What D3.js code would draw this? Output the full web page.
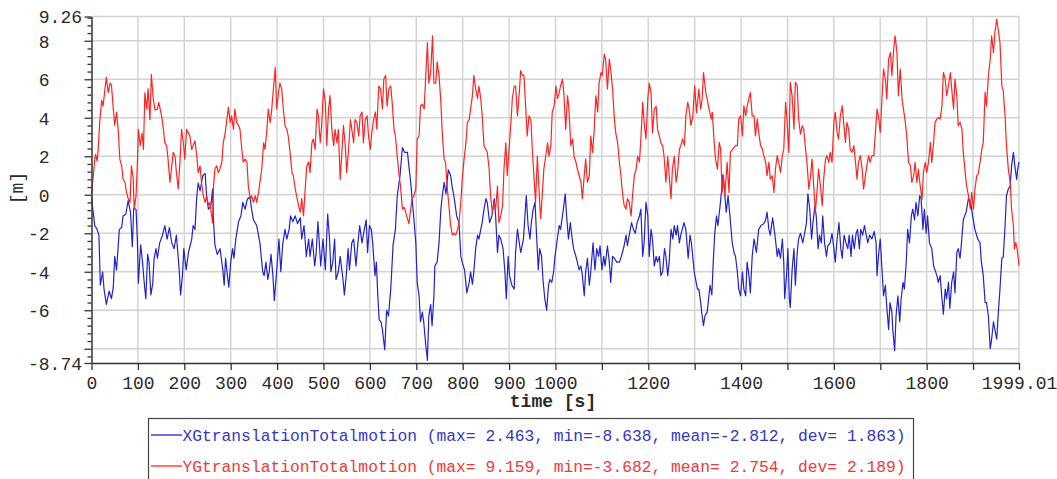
<!DOCTYPE html>
<html>
<head>
<meta charset="utf-8">
<script src="https://cdn.jsdelivr.net/npm/d3@7"></script>
<style>
  body { margin: 0; background: #fff; }
  svg { display: block; font-family: "Liberation Mono", "Courier New", monospace; }
</style>
</head>
<body>
<svg id="chart" width="1057" height="479"></svg>
<script>
// time [s] and displacement [m]
var xTime = [0,7,12,16,19,24,27,32,38,43,47,50,54,60,65,68,74,79,84,88,91,96,99,101,106,110,113,117,121,124,128,132,135,139,142,147,153,158,163,168,173,178,183,189,192,196,199,204,209,216,219,223,227,230,234,240,245,248,252,257,261,263,266,271,277,283,286,289,293,296,300,304,307,311,317,322,326,331,335,338,342,345,349,356,363,369,372,376,380,383,387,391,394,399,404,408,412,417,421,426,429,434,439,444,450,453,458,463,468,471,476,481,484,488,491,494,499,504,509,513,516,520,524,527,532,536,542,545,549,553,556,561,565,570,573,578,583,588,592,595,599,603,606,611,614,617,620,
  624,627,632,636,640,645,650,655,659,665,670,675,681,684,688,691,695,699,702,706,709,713,716,720,724,727,731,734,738,740,745,749,753,756,760,764,769,774,778,781,787,792,796,799,804,809,814,817,821,824,828,832,835,839,842,846,850,853,858,863,868,871,875,878,882,887,891,894,898,901,906,911,914,918,922,925,931,937,941,945,948,952,956,959,963,966,970,973,977,981,985,988,992,996,999,1004,1008,1011,1017,1021,1024,1028,1032,1035,1039,1044,1047,1051,1055,1058,1062,1065,1069,1073,1076,1081,1085,1089,1093,1096,1100,1104,1107,1112,1116,1119,1123,1127,1132,1138,1142,1148,1152,1155,1159,1164,1168,1172,1176,1181,1184,1188,1191,1195,1199,1202,1206,1209,1213,1217,1220,1224,1227,1231,1235,1238,1242,1245,1249,1253,1256,1260,1263,1267,
  1270,1277,1281,1286,1290,1293,1299,1302,1306,1309,1313,1315,1319,1322,1327,1333,1337,1340,1343,1347,1350,1354,1357,1361,1364,1368,1372,1376,1381,1385,1388,1392,1395,1399,1403,1406,1410,1413,1417,1420,1424,1428,1433,1438,1443,1449,1453,1456,1460,1463,1468,1473,1478,1481,1485,1489,1492,1494,1498,1501,1504,1506,1510,1514,1517,1521,1524,1528,1533,1537,1541,1544,1548,1552,1555,1559,1562,1566,1569,1573,1576,1580,1584,1587,1592,1596,1600,1603,1607,1611,1615,1618,1622,1626,1630,1633,1637,1640,1644,1648,1651,1655,1658,1662,1666,1669,1673,1677,1682,1687,1691,1693,1696,1700,1704,1707,1711,1714,1718,1721,1725,1727,1731,1734,1738,1742,1745,1749,1752,1756,1759,1763,1767,1770,1774,1777,1781,1785,1788,1792,1795,1799,1802,1806,1811,1815,1818,1822,1825,1829,1833,1836,1840,1843,1847,1850,1854,1858,1861,1865,1868,1872,1875,1879,1885,1890,1895,1899,1904,1910,1915,1918,1922,1926,1929,1933,1937,1940,1944,1947,1951,1954,1958,1962,1965,1969,1972,1976,1980,1983,1987,1990,1994,1996,1999.01];
var xMotion = [-0.14,-1.6,-1.8,-2.1,-4.7,-4.0,-4.9,-5.7,-5.0,-5.4,-4.8,-3.2,-3.9,-1.8,-1.7,-1.1,-1.0,-0.3,-0.9,-2.7,-0.7,-0.75,-2.5,-4.6,-2.6,-3.5,-4.4,-5.4,-3.1,-3.5,-5.2,-4.6,-3.3,-2.8,-3.3,-2.5,-2.1,-1.6,-2.3,-1.7,-2.5,-2.8,-2.1,-3.9,-5.2,-4.2,-2.8,-3.9,-3.0,-2.3,-1.6,-1.8,-0.05,0.6,0.2,1.0,1.1,-0.05,-0.75,-0.6,0.3,-1.4,-2.6,-3.1,-2.8,-3.9,-4.7,-3.3,-4.2,-4.8,-3.5,-2.8,-3.3,-2.3,-1.4,-1.1,-0.4,-0.75,-0.3,-0.15,-0.2,-0.75,-1.3,-1.6,-2.5,-4.0,-4.2,-3.5,-4.4,-4.0,-3.1,-4.2,-5.5,-4.0,-2.3,-4.0,-2.6,-1.8,-2.3,-1.8,-1.1,-1.4,-1.1,-1.5,-1.2,-2.3,-1.6,-3.2,-2.3,-3.2,-2.3,-3.7,-3.1,-1.4,-2.5,-3.7,-2.3,-3.9,-1.0,-2.3,-4.0,-3.5,-2.3,-4.4,-4.0,-3.2,-4.4,-5.2,-4.2,-2.8,-3.9,-2.5,-2.3,-3.7,-2.8,-1.6,-2.5,-1.8,-1.3,-3.0,-1.6,-1.8,-2.5,-4.2,-3.5,-5.2,-6.5,
  -6.6,-7.0,-8.05,-6.0,-6.3,-4.9,-2.6,-1.8,-0.05,1.0,2.45,2.2,2.2,1.5,0.65,-0.2,-1.3,-2.5,-4.55,-5.25,-6.6,-6.1,-6.6,-7.7,-8.6,-6.3,-5.7,-6.8,-5.25,-3.7,-3.5,-2.5,-0.75,-0.05,0.65,0.05,1.3,1.0,0.3,-0.05,-1.1,-1.45,-3.2,-3.5,-3.9,-5.1,-4.55,-4.0,-4.65,-4.0,-2.8,-2.1,-2.3,-1.8,-1.45,-0.75,-0.2,-0.4,-1.45,-1.1,-0.2,-1.1,-3.0,-2.1,-2.3,-2.8,-4.0,-5.4,-3.2,-4.2,-4.7,-4.9,-3.0,-1.8,-2.5,-3.0,-2.3,-0.05,-1.6,-2.3,-1.45,-0.75,-0.4,-2.0,-3.9,-2.8,-3.2,-4.4,-5.4,-6.0,-4.7,-4.4,-4.55,-4.0,-3.2,-2.3,-1.6,-1.8,-0.75,0.05,-1.1,-2.3,-1.45,-2.1,-2.8,-3.2,-3.5,-3.9,-3.7,-4.2,-5.25,-4.0,-3.3,-4.7,-4.0,-2.5,-3.9,-2.8,-3.2,-2.65,-3.9,-3.2,-3.7,-2.65,-3.5,-4.55,-3.2,-3.3,-3.5,-3.5,-3.2,-2.65,-2.1,-2.65,-2.1,-1.45,-1.8,-2.0,-1.45,-1.1,-0.75,-3.2,-2.5,-0.4,-1.1,-3.2,-1.8,-2.3,-3.7,-3.2,-3.5,-3.2,-4.2,-4.0,-2.8,-3.2,-4.2,-3.5,-1.8,-2.3,-1.6,-2.1,-1.6,-2.5,
  -2.1,-1.45,-1.8,-3.3,-2.1,-2.5,-4.0,-4.4,-4.9,-4.9,-5.6,-6.1,-6.8,-6.3,-6.1,-4.7,-5.2,-3.5,-2.1,-1.1,-1.6,-0.75,-0.05,1.05,0.3,-0.9,-0.05,-1.1,-2.5,-3.0,-3.2,-4.0,-4.9,-5.25,-4.0,-4.9,-5.25,-3.5,-4.2,-5.1,-3.2,-2.3,-3.0,-1.8,-1.6,-1.5,-1.3,-0.9,-1.8,-2.1,-1.2,-2.1,-3.2,-2.8,-3.3,-2.3,-3.5,-5.4,-4.2,-2.8,-5.4,-5.85,-3.9,-2.8,-4.7,-3.0,-2.3,-2.0,-2.5,-2.0,-1.45,0.05,-0.75,-2.3,-1.45,-0.6,-1.1,-2.8,-2.1,-2.5,-1.1,-2.5,-3.2,-2.65,-2.5,-2.0,-2.8,-3.5,-2.3,-1.45,-2.8,-3.3,-2.1,-2.5,-2.8,-2.1,-3.2,-2.1,-2.8,-2.0,-1.8,-2.8,-1.8,-2.1,-1.6,-2.0,-2.5,-2.1,-2.3,-1.9,-2.5,-4.2,-3.2,-2.3,-4.0,-5.25,-4.7,-5.8,-7.0,-5.6,-6.1,-7.0,-8.1,-6.3,-5.25,-6.6,-5.4,-4.55,-4.9,-3.5,-1.8,-2.5,-1.1,-0.75,-1.3,-0.4,-1.1,-0.05,-0.2,-1.8,-0.75,-2.0,-1.1,-2.5,-2.8,-3.7,-3.9,-4.2,-4.55,-4.2,-5.4,-6.2,-4.9,-5.4,-4.55,-5.9,-4.55,-4.0,-5.1,-3.0,-2.8,-3.3,-2.5,-1.3,-0.9,-0.2,-0.4,-1.1,-1.8,-2.3,-2.5,-3.5,-4.2,-5.6,-5.6,-6.3,-8.0,-7.5,-6.6,-7.0,-7.5,-6.3,-4.9,-3.3,-3.25,-1.6,-0.05,0.3,0.45,1.5,2.2,1.5,0.8,1.3,1.7];

var yTime = [0,4,7,9,12,14,18,22,25,29,32,36,40,43,47,50,54,58,61,65,68,72,75,79,83,86,90,92,96,99,101,105,109,112,115,119,122,126,129,133,137,142,145,151,155,158,162,165,169,173,176,180,183,187,191,194,198,201,205,209,212,216,219,223,227,230,234,237,241,245,248,252,255,259,261,263,266,270,273,277,281,284,288,291,295,299,302,306,309,313,317,320,324,327,331,335,338,342,345,349,353,356,360,363,367,371,374,378,381,385,388,392,396,399,403,406,410,414,417,421,424,428,432,435,439,442,446,450,453,457,460,464,468,471,475,478,482,486,489,493,496,500,504,507,511,514,518,522,525,529,532,536,540,543,547,550,554,558,561,565,568,572,576,579,583,586,590,594,597,601,604,608,612,615,619,
  623,627,630,634,637,641,645,648,652,655,659,663,666,670,674,677,681,684,688,691,695,699,702,706,709,713,717,720,724,727,731,735,738,742,745,749,753,756,760,763,767,771,774,778,781,785,789,792,796,799,803,807,810,814,817,821,824,828,832,835,839,842,846,850,853,857,860,864,868,871,875,878,882,886,889,893,896,900,904,907,911,914,918,922,925,929,932,936,939,943,947,950,954,957,961,964,968,971,975,979,983,986,990,993,997,1001,1004,1008,1011,1015,1018,1022,1026,1029,1033,1037,1040,1044,1047,1051,1055,1058,1062,1065,1069,1073,1076,1080,1083,1087,1091,1094,1098,1101,1105,1108,1112,1116,1119,1123,1127,1130,1134,1137,1141,1145,1148,1152,1155,1159,1163,1166,1170,1174,1177,1181,1184,1188,1191,1195,1199,1202,1206,1209,1213,1217,1220,1224,1227,1231,1234,1238,1242,1245,1249,1252,1256,1260,1263,1267,1270,1274,1278,1281,1285,1288,1292,1296,
  1300,1304,1309,1313,1316,1319,1324,1327,1331,1336,1338,1342,1345,1349,1353,1356,1359,1362,1365,1367,1370,1374,1377,1382,1388,1392,1395,1399,1403,1406,1410,1413,1417,1420,1424,1428,1431,1435,1438,1442,1446,1449,1453,1456,1460,1463,1467,1471,1474,1478,1481,1485,1489,1492,1496,1499,1503,1506,1510,1514,1517,1521,1524,1528,1532,1535,1539,1542,1546,1549,1553,1557,1560,1564,1567,1571,1575,1578,1582,1585,1589,1592,1596,1600,1603,1607,1610,1614,1618,1621,1625,1628,1632,1635,1639,1643,1646,1650,1653,1657,1661,1664,1668,1671,1675,1678,1682,1686,1689,1693,1696,1700,1704,1707,1711,1714,1718,1722,1725,1729,1732,1736,1739,1743,1747,1750,1754,1757,1761,1765,1768,1772,1775,1779,1782,1786,1790,1793,1797,1800,1804,1808,1811,1815,1818,1822,1825,1829,1833,1836,1840,1843,1847,1851,1854,1858,1861,1865,1868,1872,1876,1879,1883,1886,1890,1894,1897,1901,1904,1908,1911,1915,1919,1922,1926,1929,1933,1937,1940,1944,1947,1951,1954,1958,1962,1965,1969,1972,1976,1980,1983,1987,1989,1992,1995,1999.01];
var yMotion = [0.05,1.0,1.85,2.1,1.75,2.2,3.9,4.9,4.6,5.5,6.1,5.3,5.8,5.7,4.45,3.6,4.3,3.2,1.85,1.5,0.8,0.65,0.2,-0.2,-0.4,1.5,0.8,-0.75,-0.05,1.7,3.4,2.55,3.2,2.35,5.3,4.45,5.5,3.9,6.25,5.0,4.4,4.45,4.8,4.1,3.4,2.7,2.55,1.85,0.65,1.5,2.2,2.0,1.15,0.3,1.85,3.4,2.7,1.85,3.4,3.2,3.05,2.35,2.55,2.8,2.0,1.15,1.5,0.65,-0.05,-0.4,-0.05,-0.55,-0.4,-1.1,-1.45,0.45,1.35,1.5,1.15,1.35,1.7,2.7,3.2,3.75,4.55,3.75,4.1,3.4,4.45,3.75,3.6,3.4,2.35,1.7,1.85,1.7,0.45,-0.2,-0.05,-0.4,-0.05,-0.4,0.1,0.65,1.35,2.7,2.35,3.4,4.45,3.75,4.3,5.5,6.6,4.45,5.3,5.8,5.5,4.3,3.6,3.4,3.05,2.2,1.15,1.0,0.3,-0.05,-0.55,-0.9,-0.2,-1.1,0.1,1.5,1.7,1.15,2.7,2.9,2.35,4.45,4.1,2.7,3.6,5.5,4.8,2.55,4.45,5.15,3.4,2.55,3.4,2.7,3.4,0.8,2.35,3.6,2.55,1.15,2.35,3.9,3.4,2.7,3.9,3.75,3.05,4.1,4.3,2.7,3.9,4.1,3.05,2.35,3.2,3.9,4.3,3.4,5.65,
  5.5,4.45,6.0,6.2,4.6,5.5,5.65,4.8,3.4,3.05,2.0,1.0,0.45,-0.75,-0.65,-0.9,-1.25,-1.5,-0.75,-0.2,-0.05,0.3,2.9,3.05,4.6,4.7,4.45,6.0,7.9,5.8,6.35,8.25,5.8,5.8,6.9,6.2,4.8,3.2,1.85,1.7,0.3,-0.75,-1.6,-2.1,-2.0,-2.1,-1.8,-1.45,-0.4,0.8,1.85,2.7,3.75,3.9,4.45,5.15,6.2,5.5,5.0,5.65,5.0,4.1,2.55,2.35,2.2,1.35,-0.05,-0.9,-0.4,-0.75,0.45,-1.45,-1.1,-0.55,1.35,2.7,1.0,2.35,3.75,5.0,5.65,5.65,4.1,5.3,6.45,6.2,6.2,4.45,3.05,4.1,3.9,2.35,0.8,-0.4,2.0,0.45,-1.25,-0.2,1.35,2.0,2.7,2.0,2.55,4.3,4.6,5.65,5.0,5.3,5.65,6.0,5.3,3.4,5.15,4.45,2.55,2.9,2.0,1.7,1.35,1.0,0.65,-0.2,1.0,1.85,0.65,1.0,3.05,2.2,3.2,5.15,4.3,5.8,6.35,6.2,7.3,7.05,5.5,7.05,6.5,5.5,3.9,3.2,2.7,1.85,1.0,-0.05,-0.55,-0.75,-0.2,-0.4,-1.1,-0.05,1.0,1.35,2.0,1.7,2.9,4.8,3.75,2.9,5.0,5.8,5.3,3.2,4.45,4.6,3.4,3.05,2.7,2.55,2.0,0.65,2.0,1.0,-0.2,1.35,2.0,0.65,1.15,2.35,2.55,2.9,2.55,4.1,4.8,4.45,3.6,4.1,
  5.66,4.28,5.49,4.45,4.97,6.35,5.32,4.97,4.45,3.93,4.28,2.72,1.85,1.33,2.72,2.37,0.12,0.99,-0.05,0.64,1.68,0.12,2.2,2.37,2.55,2.55,3.93,4.1,3.06,4.62,4.1,4.6,5.0,5.32,4.1,4.1,3.06,3.93,3.24,2.55,2.37,2.03,1.68,0.99,1.68,0.81,0.99,0.12,1.33,2.03,1.68,1.16,2.03,2.37,4.8,3.93,2.2,5.84,5.14,3.41,5.84,5.66,3.93,3.15,3.58,3.41,2.37,1.68,0.29,0.81,1.85,0.29,-0.92,0.29,1.33,0.47,-0.57,0.81,1.85,2.03,1.68,2.2,1.68,3.76,4.28,3.24,2.89,4.1,4.62,3.76,2.72,3.76,3.41,2.37,2.2,2.55,1.85,0.81,1.68,2.03,1.33,0.29,0.99,1.51,2.03,1.68,2.03,2.03,3.06,4.45,4.1,3.24,5.14,6.53,6.01,4.97,7.05,7.39,6.18,7.57,8.26,7.39,5.14,6.53,4.97,4.45,3.76,3.06,1.68,1.51,0.64,0.99,1.68,0.64,1.33,0.47,-0.23,1.16,1.68,1.16,1.68,2.72,1.68,2.72,3.76,3.93,4.02,3.93,4.62,6.35,6.01,5.14,5.66,6.35,5.49,4.45,6.01,5.14,3.58,3.76,3.41,2.2,1.16,0.47,-0.05,-0.74,0.12,-0.74,0.29,0.99,1.07,1.68,2.37,2.72,5.32,4.62,6.18,7.05,8.26,7.39,8.43,9.13,8.6,7.91,5.66,5.4,4.1,2.55,1.33,0.64,-0.74,-1.61,-2.82,-2.48,-2.82,-3.69];

var xGrid = [100,200,300,400,500,600,700,800,900,1000,1100,1200,1300,1400,1500,1600,1700,1800,1900,1999.01];
var xLabels = [0,100,200,300,400,500,600,700,800,900,1000,1200,1400,1600,1800,1999.01];
var yMajor = [-8.74,-8,-6,-4,-2,0,2,4,6,8,9.26];
var yLabels = [-8.74,-6,-4,-2,0,2,4,6,8,9.26];
var yMinor = [-8.4,-7.6,-7.2,-6.8,-6.4,-5.6,-5.2,-4.8,-4.4,-3.6,-3.2,-2.8,-2.4,-1.6,-1.2,-0.8,-0.4,0.4,0.8,1.2,1.6,2.4,2.8,3.2,3.6,4.4,4.8,5.2,5.6,6.4,6.8,7.2,7.6,8.4,8.8,9.2];

var seriesNames = ["XGtranslationTotalmotion", "YGtranslationTotalmotion"];
var seriesStats = ["(max= 2.463, min=-8.638, mean=-2.812, dev= 1.863)",
                   "(max= 9.159, min=-3.682, mean= 2.754, dev= 2.189)"];
var lineColors = ["#2323c8", "#ff2424"];
var textColors = ["#3535c6", "#f03a3a"];

(function () {
    var svg = d3.select('#chart');
    var plotLeft = 91.5, plotRight = 1019, plotTop = 16.5, plotBottom = 363;

    var x = d3.scaleLinear().domain([0, 1999.01]).range([plotLeft, plotRight]);
    var y = d3.scaleLinear().domain([-8.74, 9.26]).range([plotBottom, plotTop]);

    /* grid */
    svg.append('g').selectAll('line').data(xGrid).join('line')
        .attr('x1', function(d) { return x(d); }).attr('x2', function(d) { return x(d); })
        .attr('y1', plotTop).attr('y2', plotBottom)
        .attr('stroke', '#d2d2d2').attr('stroke-width', 1.4);
    svg.append('g').selectAll('line').data(yMajor.filter(function(d) { return d > -8.74; })).join('line')
        .attr('x1', plotLeft).attr('x2', plotRight)
        .attr('y1', function(d) { return y(d); }).attr('y2', function(d) { return y(d); })
        .attr('stroke', '#d2d2d2').attr('stroke-width', 1.4);

    /* lines */
    var lineGen = d3.line()
        .x(function(d) { return x(d[0]); })
        .y(function(d) { return y(d[1]); });

    var series = [d3.zip(xTime, xMotion), d3.zip(yTime, yMotion)];
    svg.append('g').selectAll('path').data(series).join('path')
        .attr('d', lineGen)
        .attr('fill', 'none')
        .attr('stroke', function(d, i) { return lineColors[i]; })
        .attr('stroke-width', 1.2)
        .attr('stroke-linejoin', 'round');

    /* axes */
    var yAxisMinor = svg.append('g').attr('transform', 'translate(' + plotLeft + ',0)')
        .call(d3.axisLeft(y).tickValues(yMinor).tickSize(4).tickFormat(''));
    yAxisMinor.select('.domain').remove();

    // -8 gets a tick but no label, it would collide with -8.74
    var yAxis = svg.append('g').attr('transform', 'translate(' + plotLeft + ',0)')
        .call(d3.axisLeft(y).tickValues(yMajor).tickSize(7).tickSizeOuter(0)
            .tickFormat(function(d) {
                if (yLabels.indexOf(d) < 0) return '';
                return (d < 0 ? '' : ' ') + d;
            }));
    yAxis.selectAll('text')
        .attr('x', 28 - plotLeft)
        .attr('text-anchor', 'start')
        .attr('dy', '0.35em')
        .style('white-space', 'pre');

    var xAxis = svg.append('g').attr('transform', 'translate(0,' + plotBottom + ')')
        .call(d3.axisBottom(x).tickValues([0].concat(xGrid)).tickSize(7).tickSizeOuter(0)
            .tickFormat(function(d) { return xLabels.indexOf(d) >= 0 ? String(d) : ''; }));
    xAxis.selectAll('text').attr('y', 12).attr('dy', '0.75em');

    svg.selectAll('.domain').attr('stroke', '#333').attr('stroke-width', 1.5);
    svg.selectAll('.tick line').attr('stroke', '#333').attr('stroke-width', 1.3);
    svg.selectAll('.tick text')
        .attr('fill', '#2a2a2a')
        .style('font-family', '"Liberation Mono", monospace')
        .style('font-size', '18px');

    /* axis titles */
    svg.append('text')
        .attr('x', 553).attr('y', 407)
        .attr('text-anchor', 'middle')
        .attr('font-size', 18).attr('font-weight', 'bold')
        .attr('fill', '#2a2a2a')
        .text('time [s]');

    svg.append('text')
        .attr('transform', 'translate(18,188) rotate(-90)')
        .attr('text-anchor', 'middle')
        .attr('dominant-baseline', 'central')
        .attr('font-size', 18)
        .attr('fill', '#2a2a2a')
        .text('[m]');

    /* legend */
    var legend = svg.append('g');
    legend.append('rect')
        .attr('x', 148.5).attr('y', 418.5)
        .attr('width', 765).attr('height', 80)
        .attr('fill', 'none').attr('stroke', '#444').attr('stroke-width', 1.2);

    var rows = legend.selectAll('g.row').data(seriesNames).join('g')
        .attr('class', 'row')
        .attr('transform', function(d, i) { return 'translate(0,' + (435 + i * 31) + ')'; });
    rows.append('line')
        .attr('x1', 151).attr('x2', 182)
        .attr('stroke', function(d, i) { return lineColors[i]; })
        .attr('stroke-width', 1.3);
    rows.append('text')
        .attr('x', 182.5)
        .attr('dy', '0.35em')
        .attr('font-size', 16.3)
        .attr('fill', function(d, i) { return textColors[i]; })
        .text(function(d, i) { return d + ' ' + seriesStats[i]; });
})();
</script>
</body>
</html>
